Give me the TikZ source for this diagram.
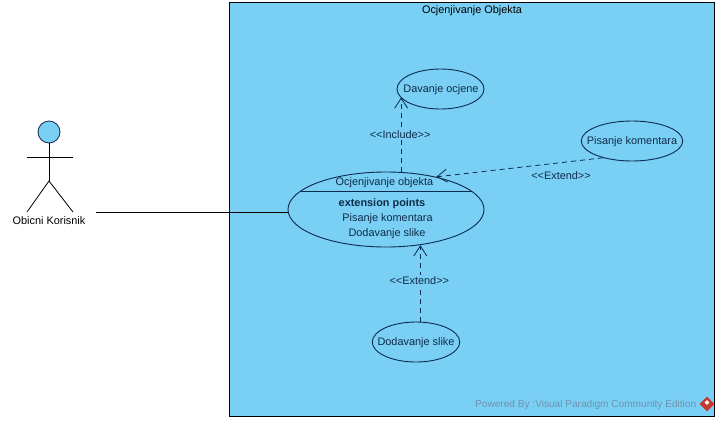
\documentclass[tikz,border=0pt]{standalone}
\usepackage{fontspec}
\setmainfont{Liberation Sans}
\usetikzlibrary{shapes.geometric,arrows.meta}
\definecolor{vpfill}{HTML}{7ACFF5}
\definecolor{vpline}{HTML}{0B2B4F}
\definecolor{vptext}{HTML}{0F2C4A}
\definecolor{vpmark}{HTML}{6E93AE}
\definecolor{vpred}{HTML}{C8382F}
\tikzset{
  uc/.style={ellipse,draw=vpline,line width=0.9pt,fill=vpfill,inner sep=0pt},
  lbl/.style={font=\fontsize{10.9}{12}\selectfont,text=vptext,inner sep=0.5pt},
  tag/.style={lbl,fill=vpfill,inner ysep=1.5pt},
  dep/.style={draw=vpline,line width=0.8pt,dash pattern=on 5pt off 4pt,-{Straight Barb[length=10pt,width=13pt]}},
  stick/.style={draw=black,line width=0.8pt},
}
\begin{document}
\begin{tikzpicture}[x=1pt,y=-1pt]
\useasboundingbox (0,0) rectangle (719,421);
\fill[white] (0,0) rectangle (719,421);
\node[draw=black,line width=0.8pt,fill=vpfill,minimum width=485pt,minimum height=414pt,inner sep=0pt,anchor=north west] (sys) at (229,2) {};
\node[lbl,text=black] (systitle) at (472,10.5) {Ocjenjivanje Objekta};
% actor
\node[circle,draw=vpline,line width=0.8pt,fill=vpfill,minimum size=22pt,inner sep=0pt] (head) at (49,132) {};
\coordinate (hip) at (49,181);
\coordinate (armL) at (27,157);
\coordinate (armR) at (73,157);
\coordinate (legL) at (27,212);
\coordinate (legR) at (73,212);
\draw[stick] (head.south) -- (hip);
\draw[stick] (armL) -- (armR);
\draw[stick] (legL) -- (hip) -- (legR);
\node[lbl,text=black] (actor) at (49,221) {Obicni Korisnik};
\coordinate (actorend) at (96,212.5);
% use cases
\node[uc,minimum width=87pt,minimum height=40pt] (davanje) at (440.5,89) {};
\node[lbl] (davanjet) at (441,89.5) {Davanje ocjene};
\node[uc,minimum width=101.5pt,minimum height=40pt] (pisanje) at (632,141) {};
\node[lbl] (pisanjet) at (632,141.5) {Pisanje komentara};
\node[uc,minimum width=87.5pt,minimum height=40pt] (dodavanje) at (416,342) {};
\node[lbl] (dodavanjet) at (416,342.5) {Dodavanje slike};
\node[uc,minimum width=196pt,minimum height=75pt] (main) at (386,209.5) {};
\node[lbl] (m1) at (384.5,182.5) {Ocjenjivanje objekta};
\coordinate (divL) at (301,191);
\coordinate (divR) at (472,191);
\draw[draw=vpline,line width=0.9pt] (divL) -- (divR);
\node[lbl,font=\fontsize{10.9}{12}\selectfont\bfseries] (m2) at (382,204) {extension points};
\node[lbl] (m3) at (387.5,218.5) {Pisanje komentara};
\node[lbl] (m4) at (387,233.5) {Dodavanje slike};
% connectors
\draw[black,line width=0.8pt] (actorend) -- (main.west |- actorend);
\draw[dep] (main.68) -- node[tag,pos=0.5,xshift=-1pt] (inc) {<{}<Include>{}>} (main.68 |- davanje.192);
\draw[dep] (pisanje.210.4) -- (main.33.5);
\node[lbl] (ext1) at (561,175.5) {<{}<Extend>{}>};
\draw[dep] (dodavanje.78.7) -- node[tag,pos=0.54,xshift=-1pt] (ext2) {<{}<Extend>{}>} (dodavanje.78.7 |- main.-47);
% watermark
\node[font=\fontsize{10.1}{12}\selectfont,text=vpmark,inner sep=0pt,anchor=west] (mark) at (475,404.5) {Powered By :Visual Paradigm Community Edition};
\node[diamond,fill=vpred,minimum size=15pt,inner sep=0pt] (logo) at (707,404) {};
\node[diamond,fill=white,minimum size=5pt,inner sep=0pt] (logoin) at (707,402.5) {};
\end{tikzpicture}
\end{document}
